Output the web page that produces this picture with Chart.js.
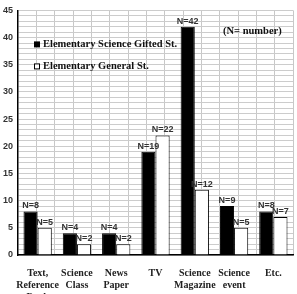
<!DOCTYPE html>
<html>
<head>
<meta charset="utf-8">
<script src="https://cdn.jsdelivr.net/npm/chart.js@4"></script>
<style>
  html, body { margin: 0; padding: 0; background: #fff; overflow: hidden; }
  #wrap { width: 297px; height: 294px; }
</style>
</head>
<body>
<div id="wrap"><canvas id="chart"></canvas></div>
<script>
// categories and values
const categories = [
  ["Text,", "Reference", "Book"],
  ["Science", "Class"],
  ["News", "Paper"],
  "TV",
  ["Science", "Magazine"],
  ["Science", "event"],
  "Etc."
];
const giftedValues = [8, 4, 4, 19, 42, 9, 8];
const generalValues = [5, 2, 2, 22, 12, 5, 7];
const seriesNames = ["Elementary Science Gifted St.", "Elementary General St."];
const noteText = "(N= number)";

const serifBold = "bold 10.5px 'Liberation Serif', 'Times New Roman', serif";

// N=.. labels above the bars
const valueLabels = {
  id: "valueLabels",
  afterDatasetsDraw(chart) {
    const ctx = chart.ctx;
    ctx.save();
    ctx.font = "bold 9px 'Liberation Sans', Arial, sans-serif";
    ctx.fillStyle = "#333";
    ctx.textAlign = "center";
    ctx.textBaseline = "bottom";
    chart.data.datasets.forEach((ds, i) => {
      chart.getDatasetMeta(i).data.forEach((bar, j) => {
        ctx.fillText("N=" + ds.data[j], bar.x, bar.y - 1);
      });
    });
    ctx.restore();
  }
};

// legend and note drawn inside the plot area
const innerLegend = {
  id: "innerLegend",
  afterDraw(chart) {
    const ctx = chart.ctx;
    const area = chart.chartArea;
    ctx.save();
    ctx.font = serifBold;
    ctx.textBaseline = "middle";
    ctx.textAlign = "left";
    const rows = [area.top + 34, area.top + 56];
    seriesNames.forEach((name, i) => {
      const y = rows[i];
      const x = area.left + 16;
      ctx.fillStyle = i === 0 ? "#000" : "#fff";
      ctx.fillRect(x, y - 3, 6, 6);
      if (i === 1) {
        ctx.strokeStyle = "#000";
        ctx.lineWidth = 1;
        ctx.strokeRect(x + 0.5, y - 2.5, 5, 5);
      }
      ctx.fillStyle = "#111";
      ctx.fillText(name, x + 9, y);
    });
    ctx.fillText(noteText, area.left + 205, area.top + 21);
    ctx.restore();
  }
};

new Chart(document.getElementById("chart"), {
  type: "bar",
  data: {
    labels: categories,
    datasets: [
      {
        label: seriesNames[0],
        data: giftedValues,
        backgroundColor: "#000",
        borderColor: "#000",
        borderWidth: 1,
        xAxisID: "x",
        yAxisID: "y",
        categoryPercentage: 0.72,
        barPercentage: 1
      },
      {
        label: seriesNames[1],
        data: generalValues,
        backgroundColor: "#fff",
        borderColor: "#000",
        borderWidth: 1,
        xAxisID: "x",
        yAxisID: "y",
        categoryPercentage: 0.72,
        barPercentage: 1
      }
    ]
  },
  options: {
    responsive: true,
    maintainAspectRatio: false,
    animation: false,
    layout: { padding: { top: 9, right: 4, left: 0, bottom: 0 } },
    plugins: {
      legend: { display: false },
      tooltip: { enabled: false }
    },
    scales: {
      x: {
        type: "category",
        position: "bottom",
        grid: { display: false, drawTicks: false },
        border: { display: true, color: "#000", width: 1.5 },
        ticks: {
          color: "#222",
          font: { family: "'Liberation Serif', 'Times New Roman', serif", size: 10, weight: "bold", lineHeight: 1.2 },
          padding: 12,
          maxRotation: 0,
          autoSkip: false
        },
        afterFit(scale) { scale.height = 39; }
      },
      x2: {
        type: "linear",
        position: "bottom",
        min: 0,
        max: 14,
        grid: { color: "#c8c8c8", lineWidth: 1, drawTicks: false },
        border: { display: false },
        ticks: { display: false, stepSize: 1, maxTicksLimit: 20 },
        afterFit(scale) { scale.height = 0; }
      },
      y: {
        min: 0,
        max: 45,
        grid: { color: "#cccccc", lineWidth: 1, drawTicks: false },
        border: { display: true, color: "#000", width: 1.5 },
        ticks: {
          stepSize: 1,
          maxTicksLimit: 50,
          autoSkip: false,
          padding: 5,
          color: "#333",
          font: { family: "'Liberation Sans', Arial, sans-serif", size: 9, weight: "bold" },
          callback: (v) => (v % 5 === 0 ? v : "")
        },
        afterFit(scale) { scale.width = 18; }
      }
    }
  },
  plugins: [valueLabels, innerLegend]
});
</script>
</body>
</html>
